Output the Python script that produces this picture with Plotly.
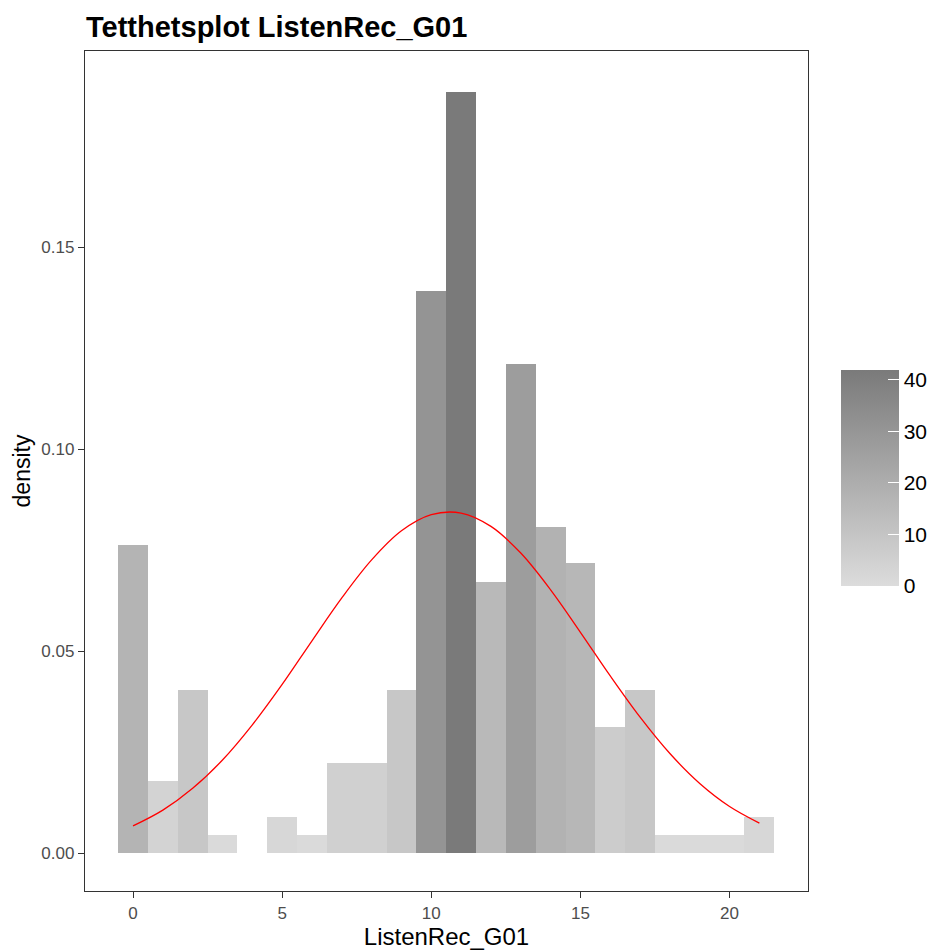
import plotly.graph_objects as go

# Histogram bins (bin centres, width 1) and counts
bin_centers = list(range(0, 22))
counts = [17, 4, 9, 1, 0, 2, 1, 5, 5, 9, 31, 42, 15, 27, 18, 16, 7, 9, 1, 1, 1, 2]
total = sum(counts)
density = [c / total for c in counts]

# Red density curve, values at integer x
curve_x = list(range(0, 22))
curve_y = [0.0068, 0.0107, 0.0161, 0.0231, 0.0318, 0.0418, 0.0526, 0.0632,
           0.0726, 0.0798, 0.0838, 0.0842, 0.0809, 0.0743, 0.0652, 0.0547,
           0.0439, 0.0337, 0.0247, 0.0173, 0.0116, 0.0075]

x_ticks = [0, 5, 10, 15, 20]
y_ticks = [0.0, 0.05, 0.10, 0.15]
y_ticktext = ["0.00", "0.05", "0.10", "0.15"]
cbar_ticks = [0, 10, 20, 30, 40]

FONT = "Liberation Sans, Arial, sans-serif"
W, H = 939, 950
ML, MR, MT, MB = 85, 131, 51, 59
PW, PH = W - ML - MR, H - MT - MB

cmax = max(counts)
cb_left_px = 841
cb_bottom_px = 585.6
cb_len_px = 215.6
cb_thick = 58
cb_x = (cb_left_px - ML) / PW
cb_y = (H - MB - cb_bottom_px) / PH

fig = go.Figure()
fig.add_trace(go.Bar(
    x=bin_centers, y=density, width=1,
    marker=dict(
        color=counts, cmin=0, cmax=cmax,
        colorscale=[[0, "#DCDCDC"], [1, "#7A7A7A"]],
        line=dict(width=0),
        showscale=True,
        colorbar=dict(
            x=cb_x, xanchor="left", xpad=0,
            y=cb_y, yanchor="bottom", ypad=0,
            len=cb_len_px, lenmode="pixels",
            thickness=cb_thick, thicknessmode="pixels",
            outlinewidth=0, borderwidth=0,
            tickvals=cbar_ticks, ticks="inside", ticklen=11,
            tickcolor="white", tickwidth=1.3,
            tickfont=dict(family=FONT, size=21, color="black"),
        ),
    ),
    showlegend=False,
    hoverinfo="skip",
))
fig.add_trace(go.Scatter(
    x=curve_x, y=curve_y, mode="lines",
    line=dict(color="red", width=1.3, shape="spline"),
    showlegend=False,
))

# left-side white ticks of the colour bar (ggplot draws them on both edges)
shapes = []
for v in cbar_ticks:
    yy = cb_y + (v / cmax) * cb_len_px / PH
    shapes.append(dict(type="line", xref="paper", yref="paper",
                       x0=cb_x, x1=cb_x + 11 / PW, y0=yy, y1=yy,
                       line=dict(color="white", width=1.3), layer="above"))

fig.update_layout(
    width=W, height=H,
    margin=dict(l=ML, r=MR, t=MT, b=MB, autoexpand=False),
    paper_bgcolor="white", plot_bgcolor="white",
    bargap=0,
    shapes=shapes,
    title=dict(text="<b>Tetthetsplot ListenRec_G01</b>",
               font=dict(family=FONT, size=29, color="black"),
               x=86 / W, xref="container", xanchor="left",
               y=1 - 27 / H, yref="container", yanchor="middle"),
    xaxis=dict(
        range=[-1.61, 22.63], tickvals=x_ticks,
        showgrid=False, zeroline=False,
        showline=True, mirror=True, linecolor="#333333", linewidth=1.3,
        ticks="outside", ticklen=6, tickcolor="#333333", tickwidth=1.3,
        tickfont=dict(family=FONT, size=17, color="#4D4D4D"),
        title=dict(text="ListenRec_G01", standoff=12,
                   font=dict(family=FONT, size=24, color="black")),
    ),
    yaxis=dict(
        range=[-0.0093, 0.1985], tickvals=y_ticks, ticktext=y_ticktext,
        showgrid=False, zeroline=False,
        showline=True, mirror=True, linecolor="#333333", linewidth=1.3,
        ticks="outside", ticklen=6, tickcolor="#333333", tickwidth=1.3,
        tickfont=dict(family=FONT, size=17, color="#4D4D4D"),
        title=dict(text="density", standoff=4,
                   font=dict(family=FONT, size=23, color="black")),
    ),
)

fig.write_html("out.html")
